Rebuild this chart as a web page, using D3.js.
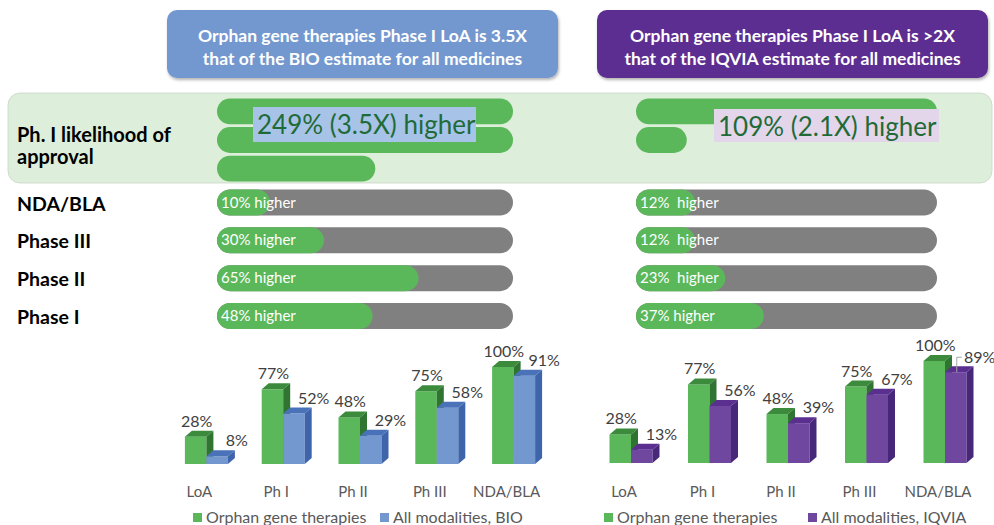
<!DOCTYPE html>
<html>
<head>
<meta charset="utf-8">
<script src="https://cdn.jsdelivr.net/npm/d3@7"></script>
<style>
  body { margin: 0; background: #fff; }
  svg { display: block; font-family: Lato, "Open Sans", sans-serif; }
</style>
</head>
<body>
<svg id="chart" width="994" height="525"></svg>
<script>
// ---------- data ----------
var bannerBio = ["Orphan gene therapies Phase I LoA is 3.5X", "that of the BIO estimate for all medicines"];
var bannerIqvia = ["Orphan gene therapies Phase I LoA is >2X", "that of the IQVIA estimate for all medicines"];

var loaTitle = ["Ph. I likelihood of", "approval"];
var loaHigherBio = 2.49;      // 249% higher
var loaHigherIqvia = 1.09;    // 109% higher
var loaTextBio = "249% (3.5X) higher";
var loaTextIqvia = "109% (2.1X) higher";

var phaseRows = ["NDA/BLA", "Phase III", "Phase II", "Phase I"];
var higherBio = [0.10, 0.30, 0.65, 0.48];
var higherIqvia = [0.12, 0.12, 0.23, 0.37];
var higherTextBio = ["10% higher", "30% higher", "65% higher", "48% higher"];
var higherTextIqvia = ["12%  higher", "12%  higher", "23%  higher", "37% higher"];

var categories = ["LoA", "Ph I", "Ph II", "Ph III", "NDA/BLA"];
var orphanGT = [0.28, 0.77, 0.48, 0.75, 1.00];
var allBio = [0.08, 0.52, 0.29, 0.58, 0.91];
var allIqvia = [0.13, 0.56, 0.39, 0.67, 0.89];
var legendBio = ["Orphan gene therapies", "All modalities, BIO"];
var legendIqvia = ["Orphan gene therapies", "All modalities, IQVIA"];

// ---------- colours ----------
var green = "#5bb85a", greenTop = "#3c8b3d", greenSide = "#2f7431";
var blue = "#7398cf", blueTop = "#4a72b9", blueSide = "#3e65ab";
var purple = "#6f479f", purpleTop = "#5a2f90", purpleSide = "#47277a";
var grey = "#808080";

var svg = d3.select("#chart");
var defs = svg.append("defs");
var f = defs.append("filter").attr("id", "shadow").attr("x", "-5%").attr("y", "-10%").attr("width", "110%").attr("height", "130%");
f.append("feDropShadow").attr("dx", 1).attr("dy", 2).attr("stdDeviation", 1.5).attr("flood-color", "#000").attr("flood-opacity", 0.3);

// ---------- banners ----------
function banner(x, w, fill, lines) {
    svg.append("rect")
        .attr("x", x).attr("y", 10).attr("width", w).attr("height", 68)
        .attr("rx", 10).attr("fill", fill)
        .attr("filter", "url(#shadow)");
    svg.append("text")
        .attr("x", x + w / 2).attr("y", 42)
        .attr("text-anchor", "middle")
        .attr("fill", "#fff").attr("font-weight", "bold").attr("font-size", 17.5)
        .selectAll("tspan").data(lines).enter().append("tspan")
        .attr("x", x + w / 2)
        .attr("dy", function (d, i) { return i ? 23 : 0; })
        .text(function (d) { return d; });
}
banner(167, 391, blue, bannerBio);
banner(597, 391, "#5c2d91", bannerIqvia);

// ---------- LoA band ----------
svg.append("rect")
    .attr("x", 8).attr("y", 93).attr("width", 984).attr("height", 90)
    .attr("rx", 12).attr("fill", "#ddeeda")
    .attr("stroke", "#c9d6c6").attr("stroke-width", 0.8);

svg.append("text")
    .attr("x", 17).attr("y", 142)
    .attr("font-weight", "bold").attr("font-size", 20).attr("fill", "#000")
    .selectAll("tspan").data(loaTitle).enter().append("tspan")
    .attr("x", 17)
    .attr("dy", function (d, i) { return i ? 22 : 0; })
    .text(function (d) { return d; });

var barH = 26;
// bar width = rounded cap + value share of the rest
var xBio = d3.scaleLinear().domain([0, 1]).range([barH, 296]);
var xIqvia = d3.scaleLinear().domain([0, 1]).range([barH, 301]);

function splitMultiple(v) {
    var parts = [];
    while (v > 1) { parts.push(1); v = +(v - 1).toFixed(4); }
    parts.push(v);
    return parts;
}
var loaRowY = d3.scaleBand().domain([0, 1, 2]).range([98.5, 181.5]).paddingInner(0.1);

function loaBars(x0, scale, value, label, bg, box) {
    svg.append("g").selectAll("rect")
        .data(splitMultiple(value)).enter().append("rect")
        .attr("x", x0)
        .attr("y", function (d, i) { return loaRowY(i); })
        .attr("width", function (d) { return scale(d); })
        .attr("height", loaRowY.bandwidth())
        .attr("rx", loaRowY.bandwidth() / 2)
        .attr("fill", green);
    svg.append("rect")
        .attr("x", box[0]).attr("y", box[1]).attr("width", box[2]).attr("height", box[3])
        .attr("fill", bg);
    svg.append("text")
        .attr("x", box[0] + 4).attr("y", box[1] + 27)
        .attr("font-size", 26).attr("fill", "#1f6b37")
        .text(label);
}
loaBars(217, xBio, loaHigherBio, loaTextBio, "#a8c3e8", [253, 107, 223, 35]);
loaBars(636, xIqvia, loaHigherIqvia, loaTextIqvia, "#e4d6ea", [714, 109, 225, 33]);

// ---------- phase rows ----------
var rowY = d3.scalePoint().domain(phaseRows).range([202.5, 316]);

svg.append("g").selectAll("text")
    .data(phaseRows).enter().append("text")
    .attr("x", 17).attr("y", function (d) { return rowY(d) + 8; })
    .attr("font-weight", "bold").attr("font-size", 19.5).attr("fill", "#000")
    .text(function (d) { return d; });

function phaseBars(x0, scale, values, texts) {
    var g = svg.append("g");
    g.selectAll(".track").data(phaseRows).enter().append("rect")
        .attr("class", "track")
        .attr("x", x0).attr("y", function (d) { return rowY(d) - barH / 2; })
        .attr("width", scale(1)).attr("height", barH)
        .attr("rx", barH / 2).attr("fill", grey);
    g.selectAll(".val").data(values).enter().append("rect")
        .attr("class", "val")
        .attr("x", x0).attr("y", function (d, i) { return rowY(phaseRows[i]) - barH / 2; })
        .attr("width", function (d) { return scale(d); }).attr("height", barH)
        .attr("rx", barH / 2).attr("fill", green);
    g.selectAll("text").data(texts).enter().append("text")
        .attr("x", x0 + 4).attr("y", function (d, i) { return rowY(phaseRows[i]) + 5; })
        .attr("font-size", 15).attr("fill", "#fff")
        .style("white-space", "pre")
        .text(function (d) { return d; });
}
phaseBars(217, xBio, higherBio, higherTextBio);
phaseBars(636, xIqvia, higherIqvia, higherTextIqvia);

// ---------- 3D column charts ----------
var dx = 7, dy = 6;

function bar3d(g, x0, w, yTop, yBase, c) {
    g.append("rect").attr("x", x0).attr("y", yTop).attr("width", w).attr("height", yBase - yTop).attr("fill", c[0]);
    g.append("path").attr("fill", c[1])
        .attr("d", "M" + x0 + "," + yTop + "L" + (x0 + dx) + "," + (yTop - dy) + "L" + (x0 + w + dx) + "," + (yTop - dy) + "L" + (x0 + w) + "," + yTop + "Z");
    g.append("path").attr("fill", c[2])
        .attr("d", "M" + (x0 + w) + "," + yTop + "L" + (x0 + w + dx) + "," + (yTop - dy) + "L" + (x0 + w + dx) + "," + (yBase - dy) + "L" + (x0 + w) + "," + yBase + "Z");
}

function columnChart(range, yRange, second, colors2, legend, legendX, leaderLast) {
    var x = d3.scaleBand().domain(categories).range(range);
    var y = d3.scaleLinear().domain([0, 1]).range(yRange);
    var w = 21.5;
    var g = svg.append("g");

    categories.forEach(function (c, i) {
        var mid = x(c) + x.bandwidth() / 2;
        bar3d(g, mid - w, w, y(orphanGT[i]), y(0), [green, greenTop, greenSide]);
        bar3d(g, mid, w, y(second[i]), y(0), colors2);

        g.append("text")
            .attr("x", mid - w / 2 + 1).attr("y", y(orphanGT[i]) - dy - 4)
            .attr("text-anchor", "middle").attr("font-size", 16).attr("fill", "#404040")
            .text(d3.format(".0%")(orphanGT[i]));

        var lx = mid + w + dx + 2, ly = y(second[i]) - dy - 4;
        if (leaderLast && i === categories.length - 1) {
            // label pushed aside with a leader line
            var px = mid + w / 2 + 1;
            g.append("path")
                .attr("d", "M" + px + "," + y(second[i]) + "V" + (y(second[i]) - 15) + "H" + (px + 5))
                .attr("fill", "none").attr("stroke", "#a6a6a6").attr("stroke-width", 1);
            lx = px + 23; ly = y(second[i]) - 9;
        }
        g.append("text")
            .attr("x", lx).attr("y", ly)
            .attr("text-anchor", "middle").attr("font-size", 16).attr("fill", "#404040")
            .text(d3.format(".0%")(second[i]));

        g.append("text")
            .attr("x", mid - 7).attr("y", 497)
            .attr("text-anchor", "middle").attr("font-size", 15).attr("fill", "#595959")
            .text(c);
    });

    var lg = svg.append("g");
    [green, colors2[0]].forEach(function (col, i) {
        lg.append("rect").attr("x", legendX[i]).attr("y", 513).attr("width", 9).attr("height", 9).attr("fill", col);
        lg.append("text").attr("x", legendX[i] + 13).attr("y", 523)
            .attr("font-size", 16).attr("fill", "#595959").text(legend[i]);
    });
}

columnChart([168, 552], [464, 367], allBio, [blue, blueTop, blueSide], legendBio, [193, 380], false);
columnChart([591.75, 984.25], [463, 361], allIqvia, [purple, purpleTop, purpleSide], legendIqvia, [604, 808], true);
</script>
</body>
</html>
